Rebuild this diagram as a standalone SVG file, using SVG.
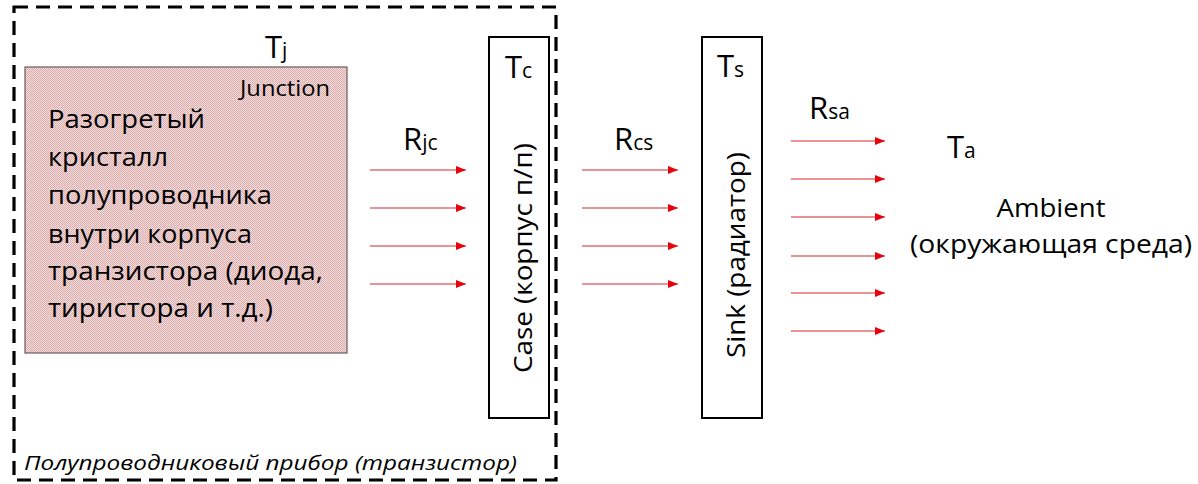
<svg xmlns="http://www.w3.org/2000/svg" width="1198" height="484" viewBox="0 0 1198 484">
<defs>
<pattern id="dots" width="2" height="2" patternUnits="userSpaceOnUse">
<rect width="2" height="2" fill="#f3dede"/>
<rect width="1" height="1" fill="#dcabab"/>
<rect x="1" y="1" width="1" height="1" fill="#dcabab"/>
</pattern>
<marker id="ah" markerWidth="10" markerHeight="8" refX="10" refY="4" orient="auto" markerUnits="userSpaceOnUse">
<path d="M0,0 L10,4 L0,8 Z" fill="#e8000b"/>
</marker>
<style>
text{font-family:"Open Sans","Noto Sans","DejaVu Sans",sans-serif;fill:#000}
.main{font-size:26px}
.big{font-size:31px}
.sub{font-size:21px}
.arr{stroke:#d42a2a;stroke-width:1.2;fill:none;marker-end:url(#ah)}
.box{fill:#fff;stroke:#000;stroke-width:2}
</style>
</defs>
<rect width="1198" height="484" fill="#fff"/>

<g id="device">
<rect x="14" y="7" width="542" height="473" fill="none" stroke="#000" stroke-width="3.2" stroke-dasharray="14,8"/>
<text x="24" y="470" font-size="20" font-style="italic" textLength="493" lengthAdjust="spacingAndGlyphs">Полупроводниковый прибор (транзистор)</text>
</g>

<g id="junction">
<rect x="25" y="67" width="322" height="286" fill="url(#dots)" stroke="#6a5a5a" stroke-width="1.2"/>
<text x="265" y="58" class="big">T<tspan class="sub">j</tspan></text>
<text x="240" y="96" font-size="21" textLength="90" lengthAdjust="spacingAndGlyphs">Junction</text>
<text class="main" x="48" y="128" textLength="157" lengthAdjust="spacingAndGlyphs">Разогретый</text>
<text class="main" x="48" y="166" textLength="120" lengthAdjust="spacingAndGlyphs">кристалл</text>
<text class="main" x="48" y="204" textLength="224" lengthAdjust="spacingAndGlyphs">полупроводника</text>
<text class="main" x="48" y="243" textLength="204" lengthAdjust="spacingAndGlyphs">внутри корпуса</text>
<text class="main" x="48" y="280" textLength="275" lengthAdjust="spacingAndGlyphs">транзистора (диода,</text>
<text class="main" x="48" y="317" textLength="225" lengthAdjust="spacingAndGlyphs">тиристора и т.д.)</text>
</g>

<g id="case">
<rect class="box" x="489" y="37" width="60" height="381"/>
<text x="505" y="78" class="big">T<tspan class="sub">c</tspan></text>
<text class="main" transform="translate(532,258) rotate(-90)" text-anchor="middle" textLength="230" lengthAdjust="spacingAndGlyphs">Case (корпус п/п)</text>
</g>

<g id="sink">
<rect class="box" x="702" y="37" width="60" height="381"/>
<text x="717" y="77" class="big">T<tspan class="sub">s</tspan></text>
<text class="main" transform="translate(745,255) rotate(-90)" text-anchor="middle" textLength="206" lengthAdjust="spacingAndGlyphs">Sink (радиатор)</text>
</g>

<g id="ambient">
<text x="947" y="158" class="big">T<tspan class="sub">a</tspan></text>
<text class="main" x="1051" y="217" text-anchor="middle" textLength="109" lengthAdjust="spacingAndGlyphs">Ambient</text>
<text class="main" x="910" y="253" textLength="282" lengthAdjust="spacingAndGlyphs">(окружающая среда)</text>
</g>

<g id="connectors">
<text x="403" y="150" class="big">R<tspan class="sub">jc</tspan></text>
<text x="614" y="150" class="big">R<tspan class="sub">cs</tspan></text>
<text x="809" y="119" class="big">R<tspan class="sub">sa</tspan></text>
<line class="arr" x1="370" y1="170" x2="466" y2="170"/>
<line class="arr" x1="370" y1="208" x2="466" y2="208"/>
<line class="arr" x1="370" y1="246" x2="466" y2="246"/>
<line class="arr" x1="370" y1="284" x2="466" y2="284"/>
<line class="arr" x1="582" y1="170" x2="678" y2="170"/>
<line class="arr" x1="582" y1="208" x2="678" y2="208"/>
<line class="arr" x1="582" y1="246" x2="678" y2="246"/>
<line class="arr" x1="582" y1="284" x2="678" y2="284"/>
<line class="arr" x1="791" y1="141" x2="885" y2="141"/>
<line class="arr" x1="791" y1="179" x2="885" y2="179"/>
<line class="arr" x1="791" y1="217" x2="885" y2="217"/>
<line class="arr" x1="791" y1="256" x2="885" y2="256"/>
<line class="arr" x1="791" y1="293" x2="885" y2="293"/>
<line class="arr" x1="791" y1="331" x2="885" y2="331"/>
</g>
</svg>
